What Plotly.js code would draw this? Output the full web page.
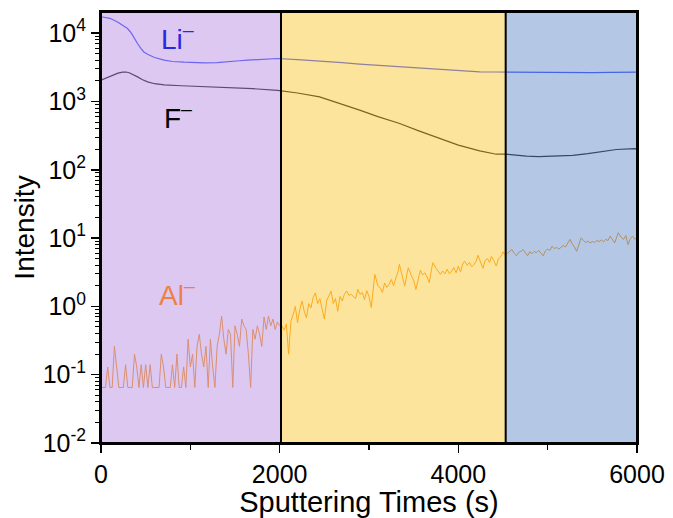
<!DOCTYPE html>
<html>
<head>
<meta charset="utf-8">
<script src="https://cdn.plot.ly/plotly-3.0.1.min.js"></script>
<style>html,body{margin:0;padding:0;background:#fff;}#chart{width:673px;height:518px;}</style>
</head>
<body>
<div id="chart"></div>
<script>
// ---- data ----
const liTime = [0,100,185,250,297,340,372,410,446,480,521,600,708,800,932,1050,1156,1300,1454,1550,1641,1800,1977,2200,2447,2700,2895,3100,3343,3550,3791,4000,4239,4400,4538,4700,4900,5100,5300,5500,5700,5900,6000];
const liVals = [17400,16500,14600,13000,11700,10000,8360,7000,5980,5300,4920,4400,4030,3850,3760,3700,3670,3700,3800,3950,4030,4150,4260,4100,3930,3700,3520,3380,3210,3080,2950,2830,2710,2700,2690,2660,2640,2670,2650,2640,2660,2650,2690];

const fTime = [0,60,129,190,241,280,316,360,409,460,521,600,708,900,1081,1300,1454,1700,1977,2200,2447,2650,2895,3100,3343,3550,3791,4000,4239,4426,4538,4650,4762,4900,5023,5150,5281,5450,5583,5770,5975,6000];
const fVals = [2050,2200,2430,2600,2690,2700,2630,2480,2290,2100,1940,1820,1750,1700,1670,1630,1600,1540,1450,1330,1170,960,746,600,476,375,287,230,189,169,169,162,158,156,158,160,163,172,183,198,204,200];

const alTime = [0,25,50,75,100,125,150,175,200,225,250,275,300,325,350,375,400,425,450,475,500,525,550,575,600,625,650,675,700,725,750,775,800,825,850,875,900,925,950,975,1000,1025,1050,1075,1100,1125,1150,1175,1200,1225,1250,1275,1300,1325,1350,1375,1400,1425,1450,1475,1500,1525,1550,1575,1600,1625,1650,1675,1700,1725,1750,1775,1800,1825,1850,1875,1900,1925,1950,1975,2000,
2025,2050,2075,2100,2125,2150,2175,2200,2225,2250,2275,2300,2325,2350,2375,2400,2425,2450,2475,2500,2525,2550,2575,2600,2625,2650,2675,2700,2725,2750,2775,2800,2825,2850,2875,2900,2925,2950,2975,3000,3025,3050,3065,3100,3125,3150,3175,3200,3225,3250,3275,3300,3325,3340,3375,3400,3425,3440,3475,3500,3525,3550,3575,3600,3625,3650,3675,3700,3715,3750,3775,3800,3825,3850,3875,3900,3925,3950,3975,4000,4025,4050,4070,4100,4125,4150,4175,4200,4220,4250,4275,4300,4325,4350,4370,4400,4425,4450,4475,4500,4525,
4550,4575,4600,4625,4650,4675,4700,4725,4750,4775,4800,4825,4850,4875,4900,4925,4950,4975,5000,5025,5050,5075,5100,5125,5150,5175,5200,5225,5250,5275,5300,5325,5350,5375,5400,5425,5450,5475,5500,5525,5550,5575,5600,5625,5650,5675,5700,5725,5750,5775,5790,5825,5850,5875,5900,5925,5950,5975,6000];
const alVals = [0.065,0.065,0.065,0.13,0.065,0.065,0.26,0.13,0.065,0.065,0.065,0.14,0.065,0.065,0.065,0.2,0.13,0.065,0.14,0.065,0.14,0.065,0.14,0.065,0.065,0.065,0.065,0.2,0.13,0.065,0.065,0.065,0.14,0.065,0.2,0.065,0.065,0.13,0.065,0.33,0.13,0.2,0.065,0.26,0.39,0.2,0.13,0.26,0.065,0.33,0.13,0.065,0.26,0.39,0.72,0.33,0.2,0.46,0.39,0.065,0.52,0.39,0.26,0.65,0.52,0.46,0.2,0.065,0.46,0.33,0.52,0.39,0.26,0.7,0.46,0.72,0.52,0.65,0.46,0.59,0.52,
0.52,0.45,0.55,0.2,0.6,0.75,1.0,0.58,0.9,1.2,0.85,0.68,1.1,0.95,1.35,1.58,1.1,1.3,0.9,0.65,1.2,1.4,1.68,1.1,1.3,0.85,1.4,1.2,1.5,1.68,1.45,1.5,1.4,1.3,1.77,1.5,1.6,1.25,1.7,1.4,0.96,2.1,2.94,2.0,1.88,1.6,2.2,1.9,2.1,2.48,2.0,2.6,3.2,4.12,2.8,1.98,3.0,3.68,2.8,2.4,1.77,2.6,3.4,2.9,3.1,2.7,2.22,3.5,4.36,3.6,3.2,2.94,3.3,3.0,3.5,3.0,3.3,3.7,3.1,3.9,3.2,4.2,4.6,4.0,4.4,3.8,4.1,4.6,5.6,4.3,3.6,4.7,5.0,4.4,5.4,4.6,3.9,5.0,5.3,6.3,5.6,
6.0,6.4,6.8,6.0,5.5,6.2,6.4,6.8,6.1,5.5,6.3,5.9,6.4,6.1,6.6,6.0,5.5,6.5,6.9,6.6,7.6,7.0,7.3,6.9,7.3,7.8,7.4,8.3,9.6,8.2,7.4,6.4,8.4,10.1,9.2,8.6,9.0,8.5,8.9,8.6,9.2,8.9,9.4,8.8,9.6,9.2,10.7,9.5,8.5,10.5,12.0,10.2,9.6,10.9,8.0,9.8,10.7,9.6,10.2];

const regionEdges = [0, 2015, 4530, 6000];
const seriesLabels = ['Li<sup>–</sup>', 'F<sup>–</sup>', 'Al<sup>–</sup>'];
const xTickVals = [0, 2000, 4000, 6000];
const xTickText = ['0', '2000', '4000', '6000'];
const yTickVals = [0.01, 0.1, 1, 10, 100, 1000, 10000];
const yTickText = ['10<sup>-2</sup>','10<sup>-1</sup>','10<sup>0</sup>','10<sup>1</sup>','10<sup>2</sup>','10<sup>3</sup>','10<sup>4</sup>'];

// ---- styles ----
const FONT = 'Liberation Sans, Arial, sans-serif';
const regionFills = ['rgb(185,145,225)', 'rgb(251,201,57)', 'rgb(105,145,205)'];

const yMinor = [];
for (let d = -2; d <= 4; d++) for (let k = 2; k <= 9; k++) { const v = k * Math.pow(10, d); if (v < 20000) yMinor.push(v); }

const traces = [
  {x: liTime, y: liVals, mode: 'lines', line: {color: 'rgb(35,55,255)', width: 1.2}, showlegend: false, hoverinfo: 'skip'},
  {x: fTime, y: fVals, mode: 'lines', line: {color: 'rgb(0,0,0)', width: 1.2}, showlegend: false, hoverinfo: 'skip'},
  {x: alTime, y: alVals, mode: 'lines', line: {color: 'rgb(250,140,0)', width: 1}, showlegend: false, hoverinfo: 'skip'}
];

const shapes = [];
for (let i = 0; i < 3; i++) {
  shapes.push({type: 'rect', xref: 'x', yref: 'paper', x0: regionEdges[i], x1: regionEdges[i+1], y0: 0, y1: 1,
    fillcolor: regionFills[i], opacity: 0.5, line: {width: 0}, layer: 'above'});
}
for (let i = 1; i < 3; i++) {
  shapes.push({type: 'line', xref: 'x', yref: 'paper', x0: regionEdges[i], x1: regionEdges[i], y0: 0, y1: 1,
    line: {color: '#000', width: 2}, layer: 'above'});
}
shapes.push({type: 'rect', xref: 'paper', yref: 'paper', x0: 0, x1: 1, y0: 0, y1: 1,
  line: {color: '#000', width: 2}, fillcolor: 'rgba(0,0,0,0)', layer: 'above'});

const annotations = [
  {x: 851, y: 3.95, text: seriesLabels[0], font: {family: FONT, size: 28, color: 'rgb(40,40,225)'}},
  {x: 862, y: 2.79, text: seriesLabels[1], font: {family: FONT, size: 28, color: '#000'}},
  {x: 851, y: 0.19, text: seriesLabels[2], font: {family: FONT, size: 28, color: 'rgb(238,128,64)'}}
].map(a => Object.assign({xref: 'x', yref: 'y', showarrow: false, xanchor: 'center', yanchor: 'middle'}, a));

const layout = {
  width: 673, height: 518,
  margin: {l: 101, r: 36, t: 12, b: 75},
  paper_bgcolor: '#fff', plot_bgcolor: '#fff',
  font: {family: FONT, color: '#000'},
  showlegend: false,
  xaxis: {
    range: [0, 6000], showgrid: false, zeroline: false,
    showline: true, linecolor: '#000', linewidth: 2, mirror: true,
    tickmode: 'array', tickvals: xTickVals, ticktext: xTickText,
    ticks: 'outside', ticklen: 8, tickwidth: 1.5, tickcolor: '#000',
    minor: {tickmode: 'linear', tick0: 0, dtick: 1000, ticks: 'outside', ticklen: 5, tickwidth: 1.5, tickcolor: '#000', showgrid: false},
    tickfont: {family: FONT, size: 25, color: '#000'},
    title: {text: 'Sputtering Times (s)', font: {family: FONT, size: 29, color: '#000'}, standoff: 3}
  },
  yaxis: {
    type: 'log', range: [-2, 4.31], showgrid: false, zeroline: false,
    showline: true, linecolor: '#000', linewidth: 2, mirror: true,
    tickmode: 'array', tickvals: yTickVals, ticktext: yTickText,
    ticks: 'outside', ticklen: 8, tickwidth: 1.5, tickcolor: '#000',
    minor: {tickmode: 'array', tickvals: yMinor, ticks: 'outside', ticklen: 4, tickwidth: 1, tickcolor: '#000', showgrid: false},
    tickfont: {family: FONT, size: 25, color: '#000'},
    title: {text: 'Intensity', font: {family: FONT, size: 28, color: '#000'}, standoff: 0}
  },
  shapes: shapes,
  annotations: annotations
};

Plotly.newPlot('chart', traces, layout, {staticPlot: true, displayModeBar: false});
</script>
</body>
</html>
